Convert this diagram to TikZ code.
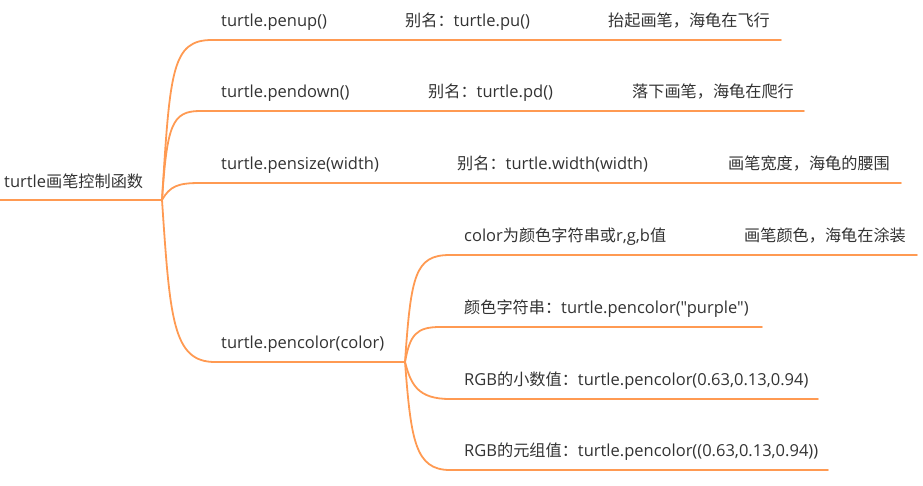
\documentclass[tikz,border=0pt]{standalone}
\usepackage{fontspec}
\setmainfont{Open Sans}
\newfontfamily\lat{Open Sans}
\newfontfamily\cjk[Scale=0.98]{Noto Sans CJK SC}
\definecolor{brc}{HTML}{FF9A52}
\definecolor{txc}{HTML}{333333}
\begin{document}
\begin{tikzpicture}[x=1pt,y=-1pt,
  conn/.style={draw=brc,line width=1.8pt,line cap=round},
  lbl/.style={anchor=base west,inner sep=0pt,text=txc,font=\lat\fontsize{16.5}{19}\selectfont}]
\path[use as bounding box] (0,0) rectangle (923,485);
% junctions and line ends
\coordinate (r0) at (0,200);
\coordinate (j0) at (162,200);
\coordinate (a1) at (212,40);   \coordinate (a2) at (781,40);
\coordinate (b1) at (200,111);  \coordinate (b2) at (804,111);
\coordinate (c1) at (200,183);  \coordinate (c2) at (901,183);
\coordinate (d1) at (215,362);  \coordinate (j1) at (405,362);
\coordinate (e1) at (450,255);  \coordinate (e2) at (917,255);
\coordinate (f1) at (440,327);  \coordinate (f2) at (762,327);
\coordinate (g1) at (450,399);  \coordinate (g2) at (818,399);
\coordinate (h1) at (450,470);  \coordinate (h2) at (828,470);
% connectors
\draw[conn] (r0) -- (j0);
\draw[conn] (j0) .. controls (170,70) and (172,40) .. (a1) -- (a2);
\draw[conn] (j0) .. controls (167,125) and (172,111) .. (b1) -- (b2);
\draw[conn] (j0) .. controls (170,186) and (178,183) .. (c1) -- (c2);
\draw[conn] (j0) .. controls (170,320) and (173,362) .. (d1) -- (j1);
\draw[conn] (j1) .. controls (411,275) and (415,255) .. (e1) -- (e2);
\draw[conn] (j1) .. controls (410,335) and (416,327) .. (f1) -- (f2);
\draw[conn] (j1) .. controls (411,385) and (418,399) .. (g1) -- (g2);
\draw[conn] (j1) .. controls (411,440) and (415,470) .. (h1) -- (h2);
% texts
\node[lbl] (root) at (4,187) {turtle{\cjk 画笔控制函数}};
\node[lbl] (pu) at (221,26) {turtle.penup()};
\node[lbl] (pua) at (405,26) {{\cjk 别名：}turtle.pu()};
\node[lbl] (pud) at (608,26) {\cjk 抬起画笔，海龟在飞行};
\node[lbl] (pd) at (221,97) {turtle.pendown()};
\node[lbl] (pda) at (428,97) {{\cjk 别名：}turtle.pd()};
\node[lbl] (pdd) at (632,97) {\cjk 落下画笔，海龟在爬行};
\node[lbl] (ps) at (221,169) {turtle.pensize(width)};
\node[lbl] (psa) at (457,169) {{\cjk 别名：}turtle.width(width)};
\node[lbl] (psd) at (728,169) {\cjk 画笔宽度，海龟的腰围};
\node[lbl] (pc) at (221,348) {turtle.pencolor(color)};
\node[lbl] (pca) at (464,241) {color{\cjk 为颜色字符串或}r,g,b{\cjk 值}};
\node[lbl] (pcd) at (744,241) {\cjk 画笔颜色，海龟在涂装};
\node[lbl] (pcb) at (464,313) {{\cjk 颜色字符串：}turtle.pencolor("purple")};
\node[lbl] (pcc) at (464,385) {RGB{\cjk 的小数值：}turtle.pencolor(0.63,0.13,0.94)};
\node[lbl] (pce) at (464,456) {RGB{\cjk 的元组值：}turtle.pencolor((0.63,0.13,0.94))};
\end{tikzpicture}
\end{document}
